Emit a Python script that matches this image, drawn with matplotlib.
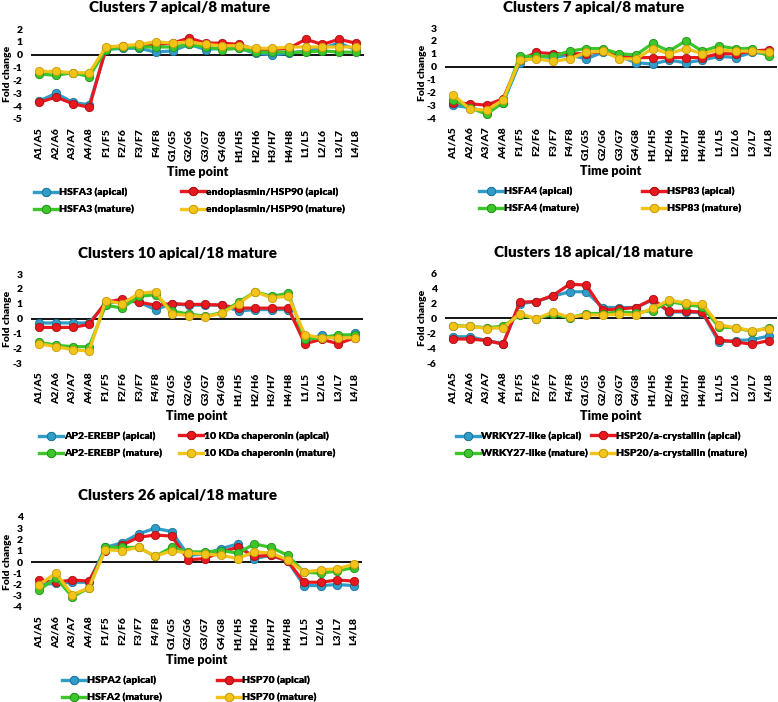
"""Fold change of heat-stress genes across time points, five cluster panels."""

import matplotlib

matplotlib.use("Agg")
import matplotlib.pyplot as plt

plt.rcParams["font.family"] = ["Lato", "DejaVu Sans"]
plt.rcParams["font.weight"] = "bold"

W, H = 778, 702

categories = [
    "A1/A5", "A2/A6", "A3/A7", "A4/A8", "F1/F5", "F2/F6", "F3/F7", "F4/F8",
    "G1/G5", "G2/G6", "G3/G7", "G4/G8", "H1/H5", "H2/H6", "H3/H7", "H4/H8",
    "L1/L5", "L2/L6", "L3/L7", "L4/L8",
]

# panel 1: Clusters 7 apical/8 mature (HSFA3, endoplasmin/HSP90)
p1_labels = ["HSFA3 (apical)", "endoplasmin/HSP90 (apical)",
             "HSFA3 (mature)", "endoplasmin/HSP90 (mature)"]
p1_blue = [-3.6, -3.0, -3.7, -3.9, 0.4, 0.5, 0.5, 0.2, 0.3, 0.8, 0.4, 0.5, 0.5, 0.1, 0.0, 0.1, 0.3, 0.5, 0.9, 0.4]
p1_red = [-3.7, -3.3, -3.8, -4.1, 0.5, 0.7, 0.7, 0.8, 0.9, 1.3, 0.9, 0.9, 0.8, 0.4, 0.4, 0.5, 1.2, 0.8, 1.2, 0.9]
p1_green = [-1.5, -1.6, -1.4, -1.7, 0.4, 0.6, 0.6, 0.6, 0.6, 0.8, 0.6, 0.4, 0.5, 0.2, 0.2, 0.2, 0.2, 0.3, 0.2, 0.2]
p1_yellow = [-1.3, -1.3, -1.4, -1.4, 0.6, 0.7, 0.8, 1.0, 0.9, 1.0, 0.8, 0.7, 0.7, 0.5, 0.5, 0.6, 0.6, 0.6, 0.6, 0.6]

# panel 2: Clusters 7 apical/8 mature (HSFA4, HSP83)
p2_labels = ["HSFA4 (apical)", "HSP83 (apical)", "HSFA4 (mature)", "HSP83 (mature)"]
p2_blue = [-3.0, -3.2, -3.5, -2.8, 0.3, 0.8, 0.7, 0.9, 0.6, 1.1, 0.8, 0.3, 0.2, 0.5, 0.3, 0.5, 0.8, 0.7, 1.1, 1.0]
p2_red = [-2.8, -2.9, -3.0, -2.5, 0.5, 1.1, 1.0, 1.0, 1.0, 1.2, 0.8, 0.7, 0.7, 0.7, 0.7, 0.7, 1.0, 1.0, 1.2, 1.3]
p2_green = [-2.6, -3.2, -3.7, -2.8, 0.8, 0.8, 0.8, 1.2, 1.4, 1.4, 1.0, 0.9, 1.8, 1.2, 2.0, 1.2, 1.6, 1.4, 1.4, 0.8]
p2_yellow = [-2.2, -3.3, -3.4, -2.6, 0.5, 0.6, 0.4, 0.6, 1.1, 1.2, 0.6, 0.6, 1.4, 1.0, 1.4, 1.0, 1.3, 1.2, 1.2, 1.1]

# panel 3: Clusters 10 apical/18 mature (AP2-EREBP, 10 KDa chaperonin)
p3_labels = ["AP2-EREBP (apical)", "10 KDa chaperonin (apical)",
             "AP2-EREBP (mature)", "10 KDa chaperonin (mature)"]
p3_blue = [-0.3, -0.3, -0.3, -0.3, 1.0, 1.2, 1.1, 0.6, 1.0, 0.9, 0.9, 0.9, 0.5, 0.6, 0.6, 0.6, -1.5, -1.1, -1.4, -1.0]
p3_red = [-0.6, -0.6, -0.6, -0.4, 1.1, 1.3, 1.1, 0.9, 1.0, 0.95, 0.95, 0.9, 0.7, 0.7, 0.7, 0.7, -1.7, -1.4, -1.7, -1.3]
p3_green = [-1.6, -1.8, -1.9, -1.9, 0.9, 0.7, 1.5, 1.6, 0.5, 0.3, 0.15, 0.4, 1.1, 1.8, 1.5, 1.7, -1.4, -1.3, -1.1, -1.1]
p3_yellow = [-1.7, -1.9, -2.1, -2.2, 1.2, 1.0, 1.7, 1.8, 0.3, 0.2, 0.1, 0.35, 1.0, 1.8, 1.4, 1.5, -1.1, -1.3, -1.3, -1.3]

# panel 4: Clusters 18 apical/18 mature (WRKY27-like, HSP20/a-crystallin)
p4_labels = ["WRKY27-like (apical)", "HSP20/a-crystallin (apical)",
             "WRKY27-like (mature)", "HSP20/a-crystallin (mature)"]
p4_blue = [-2.5, -2.5, -3.0, -3.4, 1.9, 2.2, 2.9, 3.5, 3.5, 1.4, 1.4, 1.4, 2.4, 0.8, 0.8, 0.7, -3.2, -3.0, -2.9, -2.4]
p4_red = [-2.8, -2.8, -3.0, -3.5, 2.1, 2.2, 3.0, 4.5, 4.4, 1.1, 1.2, 1.4, 2.5, 0.9, 0.9, 0.8, -2.9, -3.2, -3.5, -3.0]
p4_green = [-1.0, -1.1, -1.3, -1.1, 0.4, -0.1, 0.5, 0.0, 0.6, 0.6, 0.8, 0.7, 1.0, 2.2, 1.8, 1.5, -1.2, -1.3, -1.8, -1.3]
p4_yellow = [-1.1, -1.1, -1.4, -1.3, 0.6, -0.1, 0.8, 0.1, 0.4, 0.4, 0.5, 0.4, 1.3, 2.4, 2.0, 1.9, -0.9, -1.3, -1.7, -1.4]

# panel 5: Clusters 26 apical/18 mature (HSPA2, HSP70, HSFA2)
p5_labels = ["HSPA2 (apical)", "HSP70 (apical)", "HSFA2 (mature)", "HSP70 (mature)"]
p5_blue = [-2.0, -1.9, -1.8, -1.8, 1.3, 1.7, 2.5, 3.0, 2.7, 0.6, 0.7, 1.2, 1.6, 0.3, 0.6, 0.1, -2.1, -2.1, -2.0, -2.1]
p5_red = [-1.6, -1.8, -1.6, -1.7, 1.0, 1.5, 2.2, 2.4, 2.3, 0.2, 0.3, 0.9, 1.3, 0.5, 0.6, 0.1, -1.8, -1.8, -1.6, -1.7]
p5_green = [-2.5, -1.4, -3.1, -2.3, 1.3, 1.3, 1.3, 0.5, 1.3, 0.9, 0.9, 1.0, 0.8, 1.6, 1.3, 0.6, -0.9, -1.0, -0.8, -0.5]
p5_yellow = [-2.0, -1.0, -2.9, -2.3, 1.1, 1.0, 1.3, 0.5, 1.0, 0.8, 0.7, 0.6, 0.3, 0.9, 0.8, 0.2, -0.9, -0.7, -0.6, -0.2]

COLORS = ["#2f9dc8", "#e8191e", "#3cc62a", "#f2c318"]
EDGES = ["#1c7196", "#a80f12", "#23901a", "#c79a0a"]
WEIGHT = "heavy"


def fx(x):
    return x / W


def fy(y):
    return 1 - y / H


def draw_panel(rect, title, title_x, ylim, yticks, series, labels, legend_x):
    """rect = (left, top, right, bottom) in pixels from the top left corner."""

    left, top, right, bottom = rect
    fig = plt.gcf()
    ax = fig.add_axes([fx(left), fy(bottom), fx(right - left), (bottom - top) / H])
    xs = list(range(len(categories)))
    handles = []
    for values, color, edge, label in zip(series, COLORS, EDGES, labels):
        (line,) = ax.plot(xs, values, color=color, lw=2.3, marker="o", ms=6,
                          mfc=color, mec=edge, mew=0.6, label=label)
        handles.append(line)

    ax.axhline(0, color="black", lw=1.3, zorder=1)
    ax.set_xlim(-0.5, len(categories) - 0.5)
    ax.set_ylim(*ylim)
    ax.set_yticks(yticks)
    ax.set_yticklabels([str(t) for t in yticks], fontsize=7.5, fontweight=WEIGHT)
    ax.set_xticks(xs)
    ax.set_xticklabels(categories, rotation=90, fontsize=7.5, fontweight=WEIGHT)
    ax.tick_params(axis="both", length=0)
    ax.tick_params(axis="x", pad=7)
    ax.tick_params(axis="y", pad=6)
    for spine in ax.spines.values():
        spine.set_visible(False)
    ax.set_xlabel("Time point", fontsize=9, fontweight=WEIGHT, labelpad=3)
    ax.set_ylabel("Fold change", fontsize=7.5, fontweight=WEIGHT, va="center")
    # y label sits about 23 px left of the plot area, as in the original
    ax.yaxis.set_label_coords(-23 / (right - left), 0.5)

    fig.text(fx(title_x), fy(top - 21), title, ha="center", va="center",
             fontsize=11, fontweight=WEIGHT)

    legend_y = bottom + 82
    for col, idx in enumerate([(0, 2), (1, 3)]):
        leg = fig.legend(
            [handles[i] for i in idx],
            [labels[i] for i in idx],
            loc="center left",
            bbox_to_anchor=(fx(legend_x[col]), fy(legend_y)),
            frameon=False,
            handlelength=2.3,
            handletextpad=0.1,
            labelspacing=0.75,
            borderpad=0,
            borderaxespad=0,
            prop={"weight": WEIGHT, "size": 7.5},
        )
        fig.add_artist(leg)
    return ax


def main():
    fig = plt.figure(figsize=(W / 100, H / 100), dpi=100)

    draw_panel((31, 29, 364, 119), "Clusters 7 apical/8 mature", 180, (-5, 2),
               list(range(-5, 3)), [p1_blue, p1_red, p1_green, p1_yellow],
               p1_labels, (34, 181))
    draw_panel((445, 28, 777, 118), "Clusters 7 apical/8 mature", 594, (-4, 3),
               list(range(-4, 4)), [p2_blue, p2_red, p2_green, p2_yellow],
               p2_labels, (479, 642))
    draw_panel((31, 274, 363, 363), "Clusters 10 apical/18 mature", 178, (-3, 3),
               list(range(-3, 4)), [p3_blue, p3_red, p3_green, p3_yellow],
               p3_labels, (39, 179))
    draw_panel((445, 273, 777, 363), "Clusters 18 apical/18 mature", 594, (-6, 6),
               list(range(-6, 7, 2)), [p4_blue, p4_red, p4_green, p4_yellow],
               p4_labels, (456, 591))
    draw_panel((31, 517, 362, 607), "Clusters 26 apical/18 mature", 178, (-4, 4),
               list(range(-4, 5)), [p5_blue, p5_red, p5_green, p5_yellow],
               p5_labels, (62, 217))

    fig.savefig("out.png", dpi=100)
    plt.close(fig)


if __name__ == "__main__":
    main()
